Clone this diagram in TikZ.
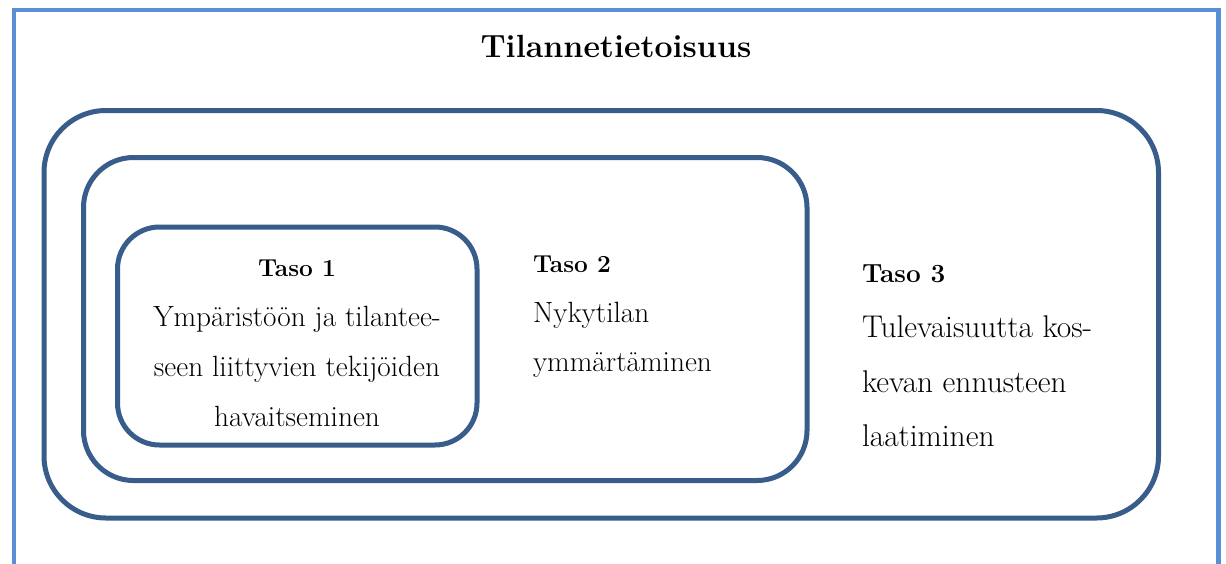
\documentclass[tikz,border=0pt]{standalone}
\usepackage{fontspec}
\definecolor{framebl}{HTML}{5A8FD6}
\definecolor{levelbl}{HTML}{385D8A}
\tikzset{
  level/.style={draw=levelbl, line width=5pt, rounded corners=#1, inner sep=0pt, fill=none},
  txt/.style={inner sep=0pt, outer sep=0pt, font=\fontsize{29.3}{29.3}\selectfont},
  txtb/.style={inner sep=0pt, outer sep=0pt, font=\fontsize{24.5}{24.5}\selectfont\bfseries},
  txtc/.style={inner sep=0pt, outer sep=0pt, font=\fontsize{31.4}{31.4}\selectfont},
  txtcb/.style={inner sep=0pt, outer sep=0pt, font=\fontsize{26.2}{26.2}\selectfont\bfseries},
}
\begin{document}
\begin{tikzpicture}[x=1pt,y=-1pt]
  \useasboundingbox (0,0) rectangle (1226,563);
  \clip (0,0) rectangle (1226,563);
  \fill[white] (0,0) rectangle (1226,563);

  % page frame (runs on below the visible area)
  \draw[framebl, line width=4.5pt] (14,10) rectangle (1218.5,620);

  % title
  \node[inner sep=0pt, anchor=base, font=\fontsize{32.1}{32.1}\selectfont\bfseries] (title) at (616,57) {Tilannetietoisuus};

  % nested levels
  \node[level=62, minimum width=1114.5pt, minimum height=407.5pt] (lvl3) at (601.25,314.25) {};
  \node[level=50, minimum width=723.5pt, minimum height=323pt] (lvl2) at (445.25,319) {};
  \node[level=42, minimum width=359.5pt, minimum height=218pt] (lvl1) at (297.25,336) {};

  % level 1 text
  \node[txtb, anchor=base] (t1h) at (297,276.5) {Taso 1};
  \node[txt, anchor=base] (t1a) at (297,326) {Ympäristöön ja tilantee-};
  \node[txt, anchor=base] (t1b) at (297,376) {seen liittyvien tekijöiden};
  \node[txt, anchor=base] (t1c) at (297,426) {havaitseminen};

  % level 2 text
  \node[txtb, anchor=base west] (t2h) at (533,272) {Taso 2};
  \node[txt, anchor=base west] (t2a) at (533,322) {Nykytilan};
  \node[txt, anchor=base west] (t2b) at (533,371) {ymmärtäminen};

  % level 3 text
  \node[txtcb, anchor=base west] (t3h) at (862,282) {Taso 3};
  \node[txtc, anchor=base west] (t3a) at (862,337) {Tulevaisuutta kos-};
  \node[txtc, anchor=base west] (t3b) at (862,392) {kevan ennusteen};
  \node[txtc, anchor=base west] (t3c) at (862,446) {laatiminen};
\end{tikzpicture}
\end{document}
